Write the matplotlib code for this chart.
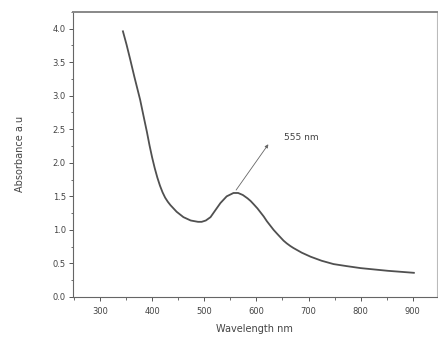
import matplotlib
matplotlib.use("Agg")
import matplotlib.pyplot as plt
from matplotlib.ticker import MultipleLocator, FormatStrFormatter

wavelength = [344, 351, 358, 366, 377, 384, 390, 395, 400, 405, 410, 415, 420, 425, 430, 435, 447, 460, 474, 488, 495,
              503, 512, 521, 531, 543, 556, 565, 574, 583, 589, 595, 602, 608, 614, 620, 627, 633, 640, 646, 652, 658,
              665, 671, 687, 704, 725, 748, 773, 800, 826, 852, 877, 902]
absorbance = [3.96, 3.76, 3.54, 3.28, 2.94, 2.68, 2.46, 2.26, 2.08, 1.92, 1.78, 1.66, 1.56, 1.48, 1.42, 1.37, 1.27, 1.19, 1.14, 1.12, 1.12,
              1.14, 1.19, 1.29, 1.40, 1.50, 1.55, 1.55, 1.52, 1.47, 1.43, 1.38, 1.32, 1.26, 1.20, 1.13, 1.06, 1.00, 0.94, 0.89, 0.84, 0.80,
              0.76, 0.73, 0.66, 0.60, 0.54, 0.49, 0.46, 0.43, 0.41, 0.39, 0.375, 0.36]

peak_label = "555 nm"
peak_xy = (558, 1.56)
label_xy = (652, 2.38)
arrow_tip = (626, 2.31)

xlabel = "Wavelength nm"
ylabel = "Absorbance a.u"

fig = plt.figure(figsize=(4.39, 3.39), dpi=100)
ax = fig.add_axes([0.166, 0.124, 0.829, 0.841])

grey = "#555555"
ax.plot(wavelength, absorbance, color="#505050", lw=1.3)

ax.annotate("", xy=arrow_tip, xytext=peak_xy,
            arrowprops=dict(arrowstyle="-|>", color="#666666", lw=0.6, mutation_scale=5))
ax.text(label_xy[0], label_xy[1], peak_label, fontsize=6.5, color="#444444", va="center", ha="left")

ax.set_xlim(248, 946)
ax.set_ylim(0, 4.25)
ax.xaxis.set_major_locator(MultipleLocator(100))
ax.xaxis.set_minor_locator(MultipleLocator(50))
ax.yaxis.set_major_locator(MultipleLocator(0.5))
ax.yaxis.set_minor_locator(MultipleLocator(0.25))
ax.xaxis.set_ticks(range(300, 901, 100))
ax.xaxis.set_major_formatter(FormatStrFormatter("%d"))
ax.yaxis.set_major_formatter(FormatStrFormatter("%.1f"))

ax.tick_params(which="major", direction="out", length=3, width=0.7, color=grey,
               labelsize=6, labelcolor="#444444", pad=2)
ax.tick_params(which="minor", direction="out", length=1.8, width=0.6, color=grey)
ax.tick_params(axis="x", pad=4)

for side, sp in ax.spines.items():
    sp.set_color("#666666")
    sp.set_linewidth(0.8)
ax.spines["top"].set_linewidth(1.4)
ax.spines["top"].set_color("#888888")
ax.spines["right"].set_color("#bbbbbb")

ax.set_xlabel(xlabel, fontsize=7, color="#444444", labelpad=6)
ax.set_ylabel(ylabel, fontsize=7, color="#444444", labelpad=20)

fig.savefig("out.png", dpi=100)
